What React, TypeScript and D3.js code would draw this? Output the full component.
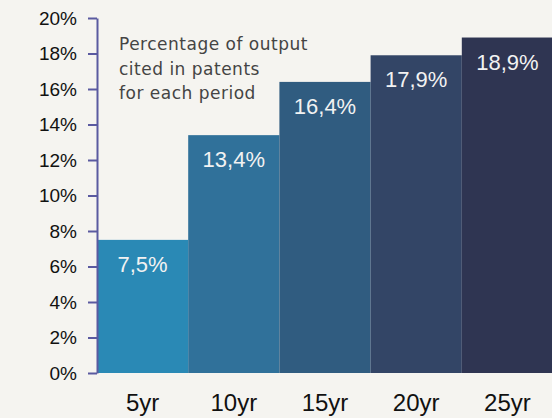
import React, { useEffect, useRef } from 'react';
import * as d3 from 'd3';

const periods = ['5yr', '10yr', '15yr', '20yr', '25yr'];
const shares = [7.5, 13.4, 16.4, 17.9, 18.9];
const barColors = ['#2a89b5', '#30719a', '#305c80', '#334566', '#2f3552'];
const yTicks = [0, 2, 4, 6, 8, 10, 12, 14, 16, 18, 20];
const noteLines = ['Percentage of output', 'cited in patents', 'for each period'];

const W = 552;
const H = 418;

export default function App() {
  const ref = useRef<SVGSVGElement>(null);

  useEffect(() => {
    const svg = d3.select(ref.current);
    svg.selectAll('*').remove();

    const x = d3.scaleBand().domain(periods).range([97, 553]).padding(0);
    const y = d3.scaleLinear().domain([0, 20]).range([373, 18]);

    svg.append('rect').attr('width', W).attr('height', H).attr('fill', '#f5f4f0');

    // bars
    svg.selectAll('rect.bar')
      .data(periods)
      .enter().append('rect')
      .attr('class', 'bar')
      .attr('x', d => x(d)!)
      .attr('width', x.bandwidth())
      .attr('y', (d, i) => y(shares[i]))
      .attr('height', (d, i) => y(0) - y(shares[i]))
      .attr('fill', (d, i) => barColors[i]);

    // value labels inside the bars
    svg.selectAll('text.val')
      .data(periods)
      .enter().append('text')
      .attr('class', 'val')
      .attr('x', d => x(d)! + x.bandwidth() / 2)
      .attr('y', (d, i) => y(shares[i]) + 32)
      .attr('text-anchor', 'middle')
      .attr('fill', '#f2f2f2')
      .style('font-family', 'Liberation Sans, Arial, sans-serif')
      .style('font-size', '22px')
      .text((d, i) => shares[i].toFixed(1).replace('.', ',') + '%');

    // y axis
    const yAxis = d3.axisLeft(y)
      .tickValues(yTicks)
      .tickFormat(d => d + '%')
      .tickSize(9)
      .tickSizeOuter(0)
      .tickPadding(11);

    const g = svg.append('g').attr('transform', 'translate(97,0)').call(yAxis);
    g.select('.domain').attr('stroke', '#5a5aa0').attr('stroke-width', 2);
    g.selectAll('.tick line').attr('stroke', '#5a5aa0').attr('stroke-width', 2);
    g.selectAll('.tick text')
      .attr('fill', '#111')
      .style('font-family', 'Liberation Sans, Arial, sans-serif')
      .style('font-size', '19px');

    // x labels
    svg.selectAll('text.cat')
      .data(periods)
      .enter().append('text')
      .attr('class', 'cat')
      .attr('x', d => x(d)! + x.bandwidth() / 2)
      .attr('y', 411)
      .attr('text-anchor', 'middle')
      .attr('fill', '#111')
      .style('font-family', 'Liberation Sans, Arial, sans-serif')
      .style('font-size', '24px')
      .text(d => d);

    // note
    svg.append('g').selectAll('text')
      .data(noteLines)
      .enter().append('text')
      .attr('x', 119)
      .attr('y', (d, i) => 50 + i * 24.5)
      .attr('fill', '#444')
      .style('font-family', 'DejaVu Sans, Verdana, sans-serif')
      .style('font-size', '17px')
      .style('letter-spacing', '0.5px')
      .text(d => d);
  }, []);

  return (
    <svg ref={ref} width={W} height={H} style={{ position: 'absolute', left: 0, top: 0 }} />
  );
}
